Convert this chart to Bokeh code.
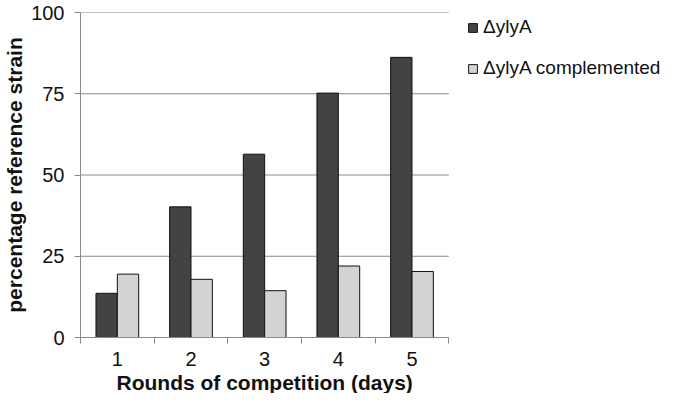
import numpy as np
from bokeh.plotting import figure
from bokeh.models import ColumnDataSource, FixedTicker, Range1d, Legend, LegendItem, Title
from bokeh.transform import dodge
from bokeh.embed import file_html
from bokeh.resources import INLINE

days = ["1", "2", "3", "4", "5"]
delta_ylyA = [13.6, 40.2, 56.4, 75.2, 86.2]
delta_ylyA_complemented = [19.5, 17.9, 14.4, 22.0, 20.3]
series_names = ["\u0394ylyA", "\u0394ylyA complemented"]
y_ticks = [0, 25, 50, 75, 100]
x_title = "Rounds of competition (days)"
y_title = "percentage reference strain"

n = len(days)
pos = np.arange(n) + 0.5
src = ColumnDataSource(dict(pos=pos, a=delta_ylyA, b=delta_ylyA_complemented))

FONT = "Liberation Sans"
GRID = "#8a8a8a"

W, H = 664, 393
LEFT = 71
PLOT_W = 374          # pixel width of the bar area; legend sits to its right
FRAME_W = W - LEFT
x_end = n * FRAME_W / PLOT_W

p = figure(width=W, height=H, output_backend="svg", toolbar_location=None,
           x_range=Range1d(0, x_end), y_range=Range1d(0, 100),
           min_border_left=LEFT, min_border_right=0, min_border_top=12,
           min_border_bottom=0)
p.outline_line_color = None
p.background_fill_color = "white"
p.border_fill_color = "white"
p.xgrid.grid_line_color = None
p.ygrid.grid_line_color = None

# horizontal gridlines restricted to the bar area
gy = [t for t in y_ticks if t > 0]
p.segment(x0=[0] * len(gy), x1=[n] * len(gy), y0=gy, y1=gy,
          line_color=GRID, line_width=1)

bw = 0.29
r1 = p.vbar(x=dodge("pos", -bw / 2, range=p.x_range), top="a", width=bw, bottom=0,
            source=src, fill_color="#434343", line_color="#111111", line_width=1)
r2 = p.vbar(x=dodge("pos", bw / 2, range=p.x_range), top="b", width=bw, bottom=0,
            source=src, fill_color="#d3d3d3", line_color="#111111", line_width=1)

# x axis: labels at centres, ticks at boundaries
xa = p.xaxis[0]
xa.bounds = (0, n)
xa.ticker = FixedTicker(ticks=list(pos), minor_ticks=list(np.arange(n + 1)))
xa.major_label_overrides = {float(v): d for v, d in zip(pos, days)}
xa.major_tick_line_color = None
xa.minor_tick_line_color = GRID
xa.minor_tick_out = 6
xa.minor_tick_in = 0
xa.axis_line_color = GRID
xa.major_label_text_font = FONT
xa.major_label_text_font_size = "20px"
xa.major_label_text_color = "#111111"
xa.major_label_standoff = 8

# x title centred under the bar area (not the whole frame)
xt = Title(text=x_title, align="left", offset=36,
           text_font=FONT, text_font_style="bold", text_font_size="21px",
           text_color="#111111", standoff=0)
p.add_layout(xt, "below")

ya = p.yaxis[0]
ya.ticker = FixedTicker(ticks=y_ticks, minor_ticks=[])
ya.major_tick_line_color = GRID
ya.major_tick_out = 6
ya.major_tick_in = 0
ya.minor_tick_line_color = None
ya.axis_line_color = GRID
ya.major_label_text_font = FONT
ya.major_label_text_font_size = "20px"
ya.major_label_text_color = "#111111"
ya.major_label_standoff = 10
ya.axis_label = y_title
ya.axis_label_text_font = FONT
ya.axis_label_text_font_style = "bold"
ya.axis_label_text_font_size = "21px"
ya.axis_label_text_color = "#111111"
ya.axis_label_standoff = 2

lg = Legend(items=[LegendItem(label=series_names[0], renderers=[r1]),
                   LegendItem(label=series_names[1], renderers=[r2])],
            location=(PLOT_W + 13, 258), orientation="vertical")
lg.border_line_color = None
lg.background_fill_alpha = 0
lg.padding = 0
lg.margin = 0
lg.glyph_width = 11
lg.glyph_height = 11
lg.label_standoff = 5
lg.spacing = 19
lg.label_text_font = FONT
lg.label_text_font_size = "19px"
lg.label_text_color = "#111111"
p.add_layout(lg, "center")

open("out.html", "w").write(file_html(p, INLINE))
